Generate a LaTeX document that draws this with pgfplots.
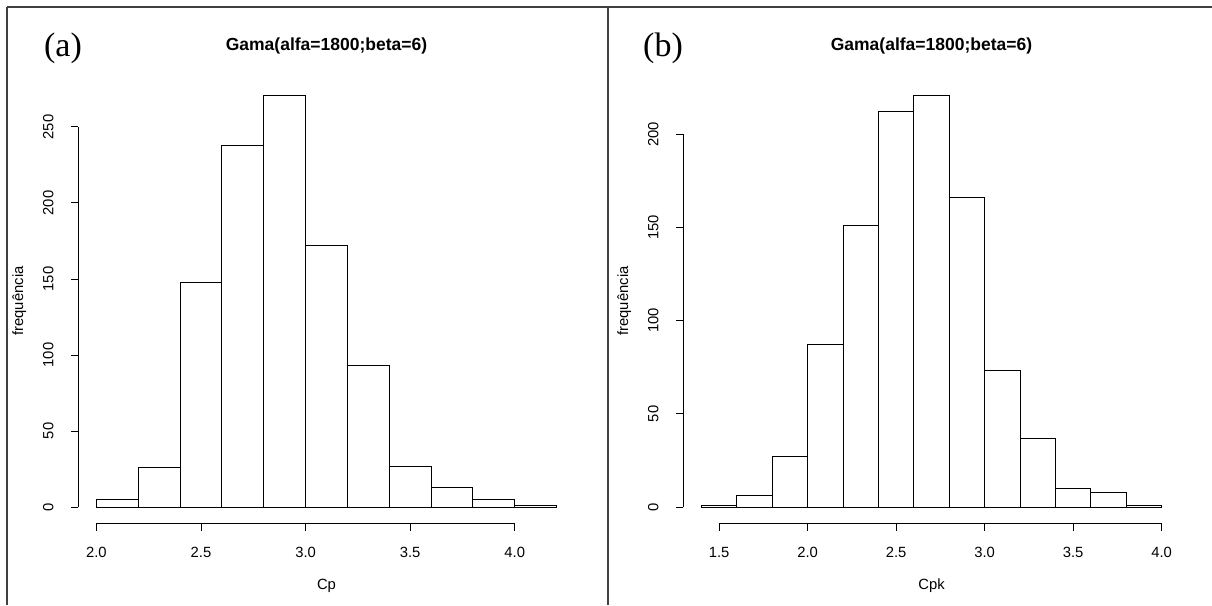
\documentclass[border=0pt]{standalone}
\usepackage{pgfplots}
\pgfplotsset{compat=1.18}
\usepackage{fontspec}
\setmainfont{Liberation Sans}
\newfontfamily\serifabc{Liberation Serif}
\begin{document}
\begin{tikzpicture}
\useasboundingbox (0pt,0pt) rectangle (1212pt,605pt);
\fill[white] (0pt,0pt) rectangle (1212pt,605pt);
% frame lines
\draw[line width=1.3pt, black!75] (7pt,598pt) -- (1212pt,598pt);
\draw[line width=1.3pt, black!75] (7pt,0pt) -- (7pt,598pt);
\draw[line width=1.3pt, black!75] (608pt,0pt) -- (608pt,598pt);
\pgfplotsset{
  hist/.style={
    scale only axis, width=497pt, height=445pt,
    anchor=south west,
    axis x line*=bottom, axis y line*=left,
    axis line style={draw=none},
    tick align=outside, major tick length=7pt,
    every tick/.style={black, line width=0.9pt},
    /pgf/number format/assume math mode=true,
    tick label style={font=\fontsize{14.8}{16}\selectfont},
    xticklabel style={yshift=-13pt, /pgf/number format/.cd, fixed, fixed zerofill, precision=1},
    yticklabel style={xshift=-14pt, rotate=90, anchor=south},
    label style={font=\fontsize{14.8}{16}\selectfont},
    title style={font=\fontsize{17.5}{20}\selectfont\bfseries, at={(rel axis cs:0.5,1.06)}, anchor=center},
    xlabel style={at={(rel axis cs:0.5,-0.1404)}, anchor=center},
    ylabel style={at={(rel axis cs:-0.118,0.5)}, anchor=center, rotate=0},
    ylabel={frequência},
  }
}
% ---------- (a) ----------
\begin{axis}[hist, at={(78pt,81.5pt)},
  xmin=1.912, xmax=4.288, ymin=-10.84, ymax=281.84,
  xtick={2,2.5,3,3.5,4}, ytick={0,50,100,150,200,250},
  title={Gama(alfa=1800;beta=6)}, xlabel={Cp}]
\addplot[ybar interval, draw=black, line width=0.9pt, fill=white] coordinates {
 (2.0,5) (2.2,26) (2.4,148) (2.6,238) (2.8,271) (3.0,172)
 (3.2,93) (3.4,27) (3.6,13) (3.8,5) (4.0,1) (4.2,1)};
\draw[black, line width=0.9pt] (axis cs:2,-10.84) -- (axis cs:4,-10.84);
\draw[black, line width=0.9pt] (axis cs:1.912,0) -- (axis cs:1.912,250);
\end{axis}
\node[font=\serifabc\fontsize{34}{36}\selectfont] at (63pt,557pt) {(a)};
% ---------- (b) ----------
\begin{axis}[hist, at={(683pt,81.5pt)},
  xmin=1.296, xmax=4.104, ymin=-8.84, ymax=229.84,
  xtick={1.5,2,2.5,3,3.5,4}, ytick={0,50,100,150,200},
  title={Gama(alfa=1800;beta=6)}, xlabel={Cpk}]
\addplot[ybar interval, draw=black, line width=0.9pt, fill=white] coordinates {
 (1.4,1) (1.6,6) (1.8,27) (2.0,87) (2.2,151) (2.4,212) (2.6,221)
 (2.8,166) (3.0,73) (3.2,37) (3.4,10) (3.6,8) (3.8,1) (4.0,1)};
\draw[black, line width=0.9pt] (axis cs:1.5,-8.84) -- (axis cs:4,-8.84);
\draw[black, line width=0.9pt] (axis cs:1.296,0) -- (axis cs:1.296,200);
\end{axis}
\node[font=\serifabc\fontsize{34}{36}\selectfont] at (663pt,557pt) {(b)};
\end{tikzpicture}
\end{document}
